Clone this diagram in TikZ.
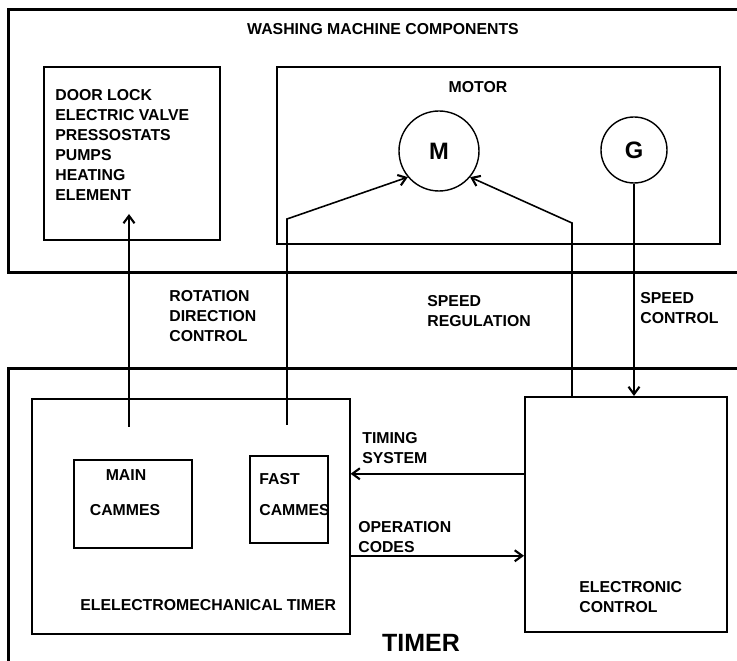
\documentclass[tikz,border=0pt]{standalone}
\usepackage{fontspec}
\setmainfont{Liberation Sans}
\usetikzlibrary{arrows.meta,positioning}

\tikzset{
  lbl/.style={font=\fontsize{9}{11.4}\selectfont\bfseries, inner sep=0pt, align=left},
  box/.style={draw, line width=0.9pt, inner sep=0pt, anchor=north west},
  frame/.style={draw, line width=1.7pt},
  wire/.style={line width=0.9pt},
  motorball/.style={draw, circle, line width=0.8pt, inner sep=0pt, font=\fontsize{13.5}{16}\selectfont\bfseries}
}

\begin{document}
\begin{tikzpicture}[>={Straight Barb[length=1.5mm,width=2.2mm,line width=1.2pt]}]
	\clip (0,0) rectangle (14.74,13.22);
	% the two big frames
	\draw[frame] (0.17,7.76) rectangle (15.5,13.02);
	\draw[frame] (0.17,-1) rectangle (15.5,5.84);
	\node[lbl] (title) at (7.66,12.64) {WASHING MACHINE COMPONENTS};
	\node[lbl, font=\fontsize{14.2}{17}\selectfont\bfseries] (timer) at (8.42,0.36) {TIMER};

	% washing machine side
	\node[box, minimum width=3.52cm, minimum height=3.46cm] (parts) at (0.86,11.9) {};
	\node[lbl, anchor=north west] (partslist) at (1.1,11.44) {DOOR LOCK\\ELECTRIC VALVE\\PRESSOSTATS\\PUMPS\\HEATING\\ELEMENT};
	\node[box, minimum width=8.86cm, minimum height=3.54cm] (motor) at (5.52,11.9) {};
	\node[lbl] (motorlbl) at (9.56,11.48) {MOTOR};
	\node[motorball, minimum size=1.6cm] (M) at (8.78,10.2) {M};
	\node[motorball, minimum size=1.32cm] (G) at (12.68,10.22) {G};

	% timer side
	\node[box, minimum width=6.36cm, minimum height=4.7cm] (emt) at (0.62,5.26) {};
	\node[box, minimum width=2.36cm, minimum height=1.76cm] (maincam) at (1.46,4.04) {};
	\node[lbl] (mainlbl) at (2.52,3.72) {MAIN};
	\node[lbl] (maincamlbl) at (2.5,3.02) {CAMMES};
	\node[box, minimum width=1.56cm, minimum height=1.74cm] (fastcam) at (4.98,4.12) {};
	\node[lbl, anchor=west] (fastlbl) at (5.18,3.64) {FAST};
	\node[lbl, anchor=west] (fastcamlbl) at (5.18,3.02) {CAMMES};
	\node[lbl, anchor=west] (emtlbl) at (1.6,1.12) {ELELECTROMECHANICAL TIMER};
	\node[box, minimum width=4.04cm, minimum height=4.7cm] (ctrl) at (10.48,5.3) {};
	\node[lbl, anchor=north west] (ctrllbl) at (11.58,1.6) {ELECTRONIC\\CONTROL};

	% signals
	\coordinate (rotfoot) at (2.58,4.68);
	\coordinate (rottip) at (2.58,8.94);
	\draw[wire,->] (rotfoot) -- (rottip);
	\node[lbl, anchor=north west] (rotlbl) at (3.38,7.42) {ROTATION\\DIRECTION\\CONTROL};

	\coordinate (fastfoot) at (5.74,4.72);
	\draw[wire,->] (fastfoot) -- ++(0,4.12) -- (M.220);

	\coordinate (regbend) at (11.44,8.76);
	\draw[wire,->] (regbend |- ctrl.north) -- (regbend) -- (M.-40);
	\node[lbl, anchor=north west] (reglbl) at (8.54,7.32) {SPEED\\REGULATION};

	\draw[wire,->] (G.south) -- (G.south |- ctrl.north);
	\node[lbl, anchor=north west] (spdlbl) at (12.8,7.38) {SPEED\\CONTROL};

	\coordinate (tsys) at ([yshift=8.1mm]ctrl.west);
	\draw[wire,->] (tsys) -- (tsys -| emt.east);
	\node[lbl, anchor=north west] (tsyslbl) at (7.24,4.58) {TIMING\\SYSTEM};

	\coordinate (opc) at ([yshift=-8.3mm]ctrl.west);
	\draw[wire,->] (opc -| emt.east) -- (opc);
	\node[lbl, anchor=north west] (opclbl) at (7.16,2.8) {OPERATION\\CODES};
\end{tikzpicture}
\end{document}
